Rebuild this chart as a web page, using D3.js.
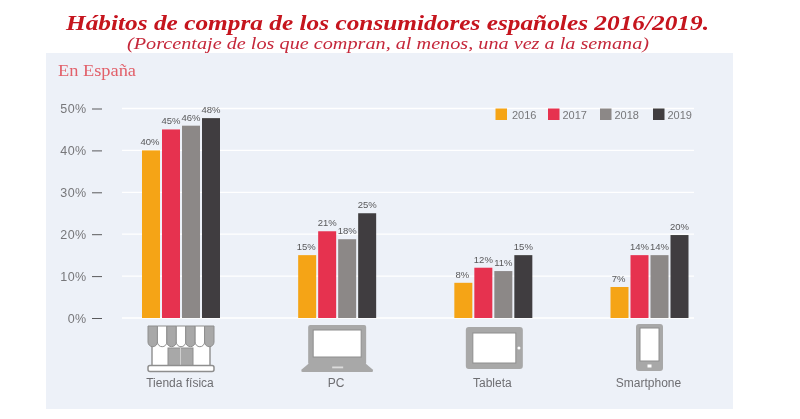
<!DOCTYPE html>
<html lang="es"><head><meta charset="utf-8">
<script src="https://cdn.jsdelivr.net/npm/d3@7/dist/d3.min.js"></script>
<style>html,body{margin:0;background:#fff}svg{display:block}</style></head>
<body><div id="chart"></div>
<script>
const categories = ["Tienda física","PC","Tableta","Smartphone"];
const years = ["2016","2017","2018","2019"];
const colors = ["#f5a416","#e6324f","#8c8887","#3f3e3f"];
const values2016 = [40,15,8.4,7.4];
const values2017 = [45,20.7,12,15];
const values2018 = [45.9,18.8,11.2,15];
const values2019 = [47.7,25,15,19.8];
const labels2016 = ["40%","15%","8%","7%"];
const labels2017 = ["45%","21%","12%","14%"];
const labels2018 = ["46%","18%","11%","14%"];
const labels2019 = ["48%","25%","15%","20%"];
const yTicks = [0,10,20,30,40,50];
const seriesValues = [values2016,values2017,values2018,values2019];
const seriesLabels = [labels2016,labels2017,labels2018,labels2019];

const W=800,H=419;
const svg=d3.select("#chart").append("svg").attr("width",W).attr("height",H).attr("viewBox",[0,0,W,H]);
svg.append("defs").append("filter").attr("id","soft").append("feGaussianBlur").attr("stdDeviation",0.35);
const root=svg.append("g").attr("filter","url(#soft)");
const serif='"Liberation Serif","DejaVu Serif",serif', sans='"Liberation Sans",Arial,sans-serif';

root.append("rect").attr("x",46).attr("y",53).attr("width",687).attr("height",356).attr("fill","#edf1f8");

root.append("text").attr("x",387.5).attr("y",29.5).attr("text-anchor","middle")
  .attr("font-family",serif).attr("font-weight","bold").attr("font-style","italic").attr("font-size",21.5)
  .attr("textLength",643).attr("lengthAdjust","spacingAndGlyphs")
  .attr("fill","#c5121f").text("Hábitos de compra de los consumidores españoles 2016/2019.");
root.append("text").attr("x",388).attr("y",49).attr("text-anchor","middle")
  .attr("font-family",serif).attr("font-style","italic").attr("font-size",17.5)
  .attr("textLength",522).attr("lengthAdjust","spacingAndGlyphs")
  .attr("fill","#c5283a").text("(Porcentaje de los que compran, al menos, una vez a la semana)");
root.append("text").attr("x",58).attr("y",76).attr("font-family",serif).attr("font-size",16)
  .attr("textLength",78).attr("lengthAdjust","spacingAndGlyphs")
  .attr("fill","#e2606a").text("En España");

const y=d3.scaleLinear().domain([0,50]).range([318,108.5]);
const x0=d3.scalePoint().domain(categories).range([181,649.5]);
const x1=d3.scaleBand().domain(years).range([-39,39]).paddingInner(0.1);

// gridlines
root.append("g").selectAll("line").data(yTicks).join("line")
  .attr("x1",122).attr("x2",694).attr("y1",d=>y(d)).attr("y2",d=>y(d))
  .attr("stroke","#ffffff").attr("stroke-width",1.3);

// y axis from d3
const axis=root.append("g").attr("transform","translate(102,0)")
  .call(d3.axisLeft(y).tickValues(yTicks).tickFormat(d=>d+"%").tickSize(0).tickPadding(0));
axis.select(".domain").remove();
axis.selectAll("text").attr("x",-15.5).attr("font-family",sans).attr("font-size",12.5).attr("fill","#77777a").attr("letter-spacing",0.4);
axis.selectAll(".tick").append("line").attr("x1",-10).attr("x2",0).attr("y1",0).attr("y2",0).attr("stroke","#5a5a5c").attr("stroke-width",1);

// bars
years.forEach((yr,s)=>{
  const g=root.append("g");
  g.selectAll("rect").data(categories).join("rect")
    .attr("x",c=>x0(c)+x1(yr)).attr("width",x1.bandwidth())
    .attr("y",(c,i)=>y(seriesValues[s][i])).attr("height",(c,i)=>y(0)-y(seriesValues[s][i]))
    .attr("fill",colors[s]);
  g.selectAll("text").data(categories).join("text")
    .attr("x",c=>x0(c)+x1(yr)+x1.bandwidth()/2-(s===0?1:0))
    .attr("y",(c,i)=>y(seriesValues[s][i])-5).attr("text-anchor","middle")
    .attr("font-family",sans).attr("font-size",9.5).attr("fill","#58585a")
    .text((c,i)=>seriesLabels[s][i]);
});

// legend
const legX=d3.scaleOrdinal().domain(years).range([495.5,548,600,653]);
const leg=root.append("g").selectAll("g").data(years).join("g").attr("transform",d=>`translate(${legX(d)},108.5)`);
leg.append("rect").attr("width",11.5).attr("height",11.5).attr("fill",(d,i)=>colors[i]);
leg.append("text").attr("x",(d,i)=>i===0?16.5:14.5).attr("y",10).attr("font-family",sans).attr("font-size",11).attr("fill","#77777a").text(d=>d);

// category labels
root.append("g").selectAll("text").data(categories).join("text")
  .attr("x",c=>x0(c)-1).attr("y",387).attr("text-anchor","middle")
  .attr("font-family",sans).attr("font-size",12).attr("fill","#6e6e72").text(c=>c);

// icons
const G="#a8a8a8",S="#8e8e8e",white="#ffffff";
const icons=root.append("g").selectAll("g").data(categories).join("g").attr("transform",c=>`translate(${x0(c)},325)`);
function store(g){
  g=g.append("g").attr("transform","translate(0,1)");
  g.append("rect").attr("x",-29).attr("y",14).attr("width",58).attr("height",26).attr("fill",white).attr("stroke",S).attr("stroke-width",1.4);
  d3.range(7).forEach(i=>{
    const w=66/7,bx=-33+i*w;
    g.append("path").attr("d",`M${bx},0h${w}v16a${w/2},${w/2} 0 0 1 ${-w},0z`).attr("fill",i%2?white:G).attr("stroke",S).attr("stroke-width",1);
  });
  g.append("rect").attr("x",-13).attr("y",22).attr("width",25).attr("height",20).attr("fill",G).attr("stroke",S);
  g.append("line").attr("x1",-0.5).attr("x2",-0.5).attr("y1",22).attr("y2",42).attr("stroke","#d0d0d0");
  g.append("rect").attr("x",-33).attr("y",39.5).attr("width",66).attr("height",6).attr("rx",2).attr("fill",white).attr("stroke",S).attr("stroke-width",1.5);
}
function laptop(g){
  g.append("rect").attr("x",-29).attr("y",0).attr("width",58).attr("height",40).attr("rx",2).attr("fill",G);
  g.append("rect").attr("x",-24).attr("y",5).attr("width",48).attr("height",27).attr("fill",white).attr("stroke",S);
  g.append("path").attr("d","M-29,39H29L35.5,44.5Q36.5,47 34.5,47H-34.5Q-36.5,47 -35.5,44.5z").attr("fill",G);
  g.append("rect").attr("x",-5).attr("y",41.5).attr("width",11).attr("height",1.8).attr("fill","#dcdcdc");
}
function tablet(g){
  g.append("rect").attr("x",-27.5).attr("y",2).attr("width",57).attr("height",42).attr("rx",3).attr("fill",G);
  g.append("rect").attr("x",-20.5).attr("y",8).attr("width",43).attr("height",30).attr("fill",white).attr("stroke",S);
  g.append("circle").attr("cx",25.6).attr("cy",23).attr("r",1.5).attr("fill",white);
}
function phone(g){
  g.append("rect").attr("x",-13.5).attr("y",-1).attr("width",27).attr("height",47).attr("rx",3).attr("fill",G);
  g.append("rect").attr("x",-9.5).attr("y",3).attr("width",19).attr("height",33).attr("fill",white).attr("stroke",S);
  g.append("rect").attr("x",-2).attr("y",39.5).attr("width",4).attr("height",3).attr("fill",white);
}
const draw=[store,laptop,tablet,phone];
icons.each(function(c,i){draw[i](d3.select(this));});
</script></body></html>
